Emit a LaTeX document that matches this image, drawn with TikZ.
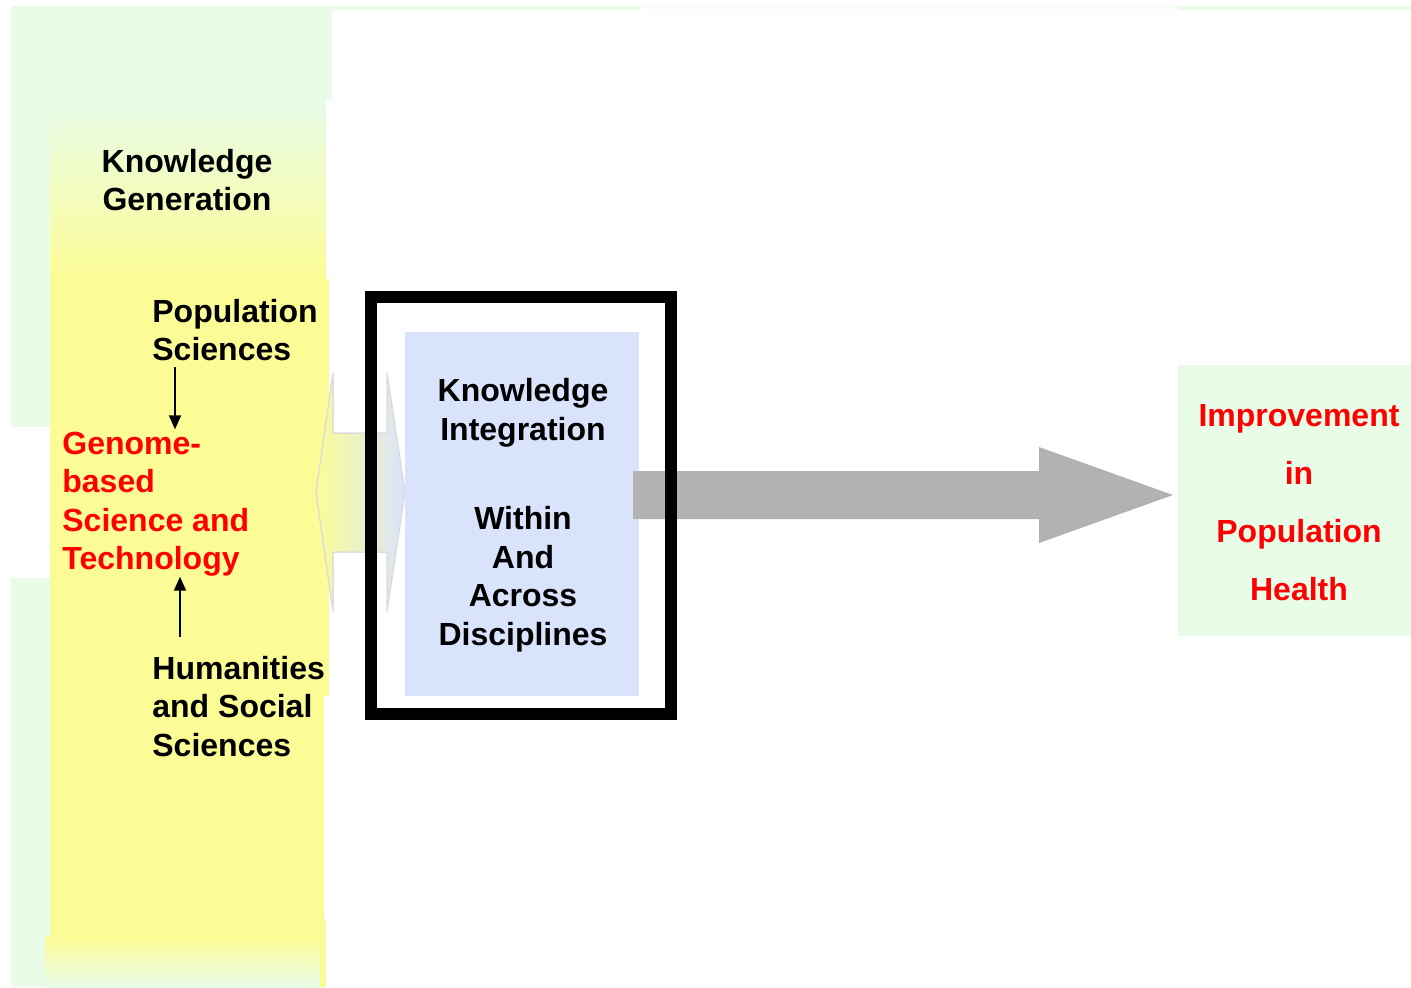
\documentclass[tikz,border=0pt]{standalone}
\usepackage{fontspec}
\setmainfont{Liberation Sans}
\usetikzlibrary{arrows.meta,calc}
\definecolor{lgreen}{HTML}{E8FCE8}
\definecolor{lyellow}{HTML}{FCFC96}
\definecolor{lblue}{HTML}{D9E4FC}
\definecolor{lgray}{HTML}{B2B2B2}
\definecolor{edgegray}{HTML}{DDDDDD}
\definecolor{tred}{HTML}{FF0000}
\begin{document}
\begin{tikzpicture}[x=0.5pt,y=-0.5pt,
  txt/.style={font=\fontsize{16}{19.25}\selectfont\bfseries, inner sep=0pt, text=black},
  redtxt/.style={txt, text=tred},
  sarrow/.style={line width=1pt, -{Triangle[width=6pt,length=7pt]}}
]
\useasboundingbox (0,0) rectangle (1411,987);
\fill[white] (0,0) rectangle (1411,987);
% left green column
\fill[lgreen] (11,6) rectangle (332,100);
\fill[lgreen] (11,100) rectangle (50,427);
\fill[lgreen] (11,578) rectangle (50,987);
\fill[lgreen] (45,930) rectangle (326,987);
% top strip
\fill[lgreen] (332,6) rectangle (640,10);
\fill[lgreen!40] (640,6) rectangle (1178,9);
\fill[lgreen] (1178,6) rectangle (1411,10);
% yellow column
\shade[top color=lgreen, bottom color=lyellow] (50,100) rectangle (326,280);
\fill[lyellow] (50,279) rectangle (329,696);
\fill[lyellow] (50,695) rectangle (324,938);
\fill[lyellow] (320,919) rectangle (326,987);
\shade[top color=lyellow, bottom color=lgreen] (45,937) rectangle (320,987);
% double arrow
\shade[left color=lyellow, right color=lblue, draw=edgegray, line width=0.75pt, line join=miter]
  (316,492) -- (333,373) -- (333,433) -- (387,433) -- (387,373) -- (405,492)
  -- (387,611) -- (387,552) -- (333,552) -- (333,611) -- cycle;
% blue box
\node[fill=lblue, minimum width=117pt, minimum height=182pt, inner sep=0pt] (blue) at (522,514) {};
% right green box
\node[fill=lgreen, minimum width=116.5pt, minimum height=135.5pt, inner sep=0pt] (gbox) at (1294.5,500.5) {};
% big gray arrow
\coordinate (gs) at (633,495);
\coordinate (gt) at (1173,495);
\fill[lgray] ($(gs)+(0,-24)$) -- ($(gt)+(-134,-24)$) -- ($(gt)+(-134,-48)$) -- (gt)
  -- ($(gt)+(-134,48)$) -- ($(gt)+(-134,24)$) -- ($(gs)+(0,24)$) -- cycle;
% black frame
\node[draw=black, line width=6pt, minimum width=150pt, minimum height=208.5pt, inner sep=0pt] (frame) at (521,505.5) {};
% texts
\node[txt, align=center] (kgen) at (187,180) {Knowledge\\Generation};
\node[txt, align=left, anchor=west] (pop) at (152,330) {Population\\Sciences};
\node[redtxt, align=left, anchor=west] (genome) at (62,504) {Genome-\\based\\Science and\\Technology};
\node[txt, align=left, anchor=west] (hum) at (152,706.5) {Humanities\\and Social\\Sciences};
\node[txt, align=center] (kint) at (523,413) {Knowledge\\Integration};
\node[txt, align=center] (within) at (523,579) {Within\\And\\Across\\Disciplines};
\node[redtxt, align=center, font=\fontsize{16}{29}\selectfont\bfseries] (impr) at (1299,503) {Improvement\\in\\Population\\Health};
% small arrows
\coordinate (ax1) at (175,0);
\coordinate (ax2) at (180,0);
\draw[sarrow, shorten <=3pt, shorten >=1pt] (pop.south -| ax1) -- (genome.north -| ax1);
\draw[sarrow, shorten <=9.5pt, shorten >=0pt] (hum.north -| ax2) -- (genome.south -| ax2);
\end{tikzpicture}
\end{document}
